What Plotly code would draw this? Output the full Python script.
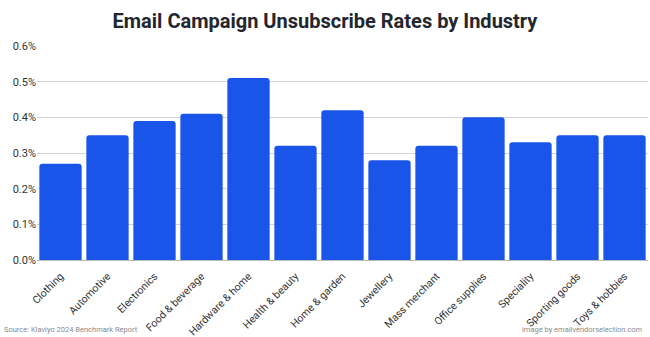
import plotly.graph_objects as go

categories = ["Clothing", "Automotive", "Electronics", "Food & beverage", "Hardware & home",
              "Health & beauty", "Home & garden", "Jewellery", "Mass merchant", "Office supplies",
              "Speciality", "Sporting goods", "Toys & hobbies"]
unsub_rates = [0.27, 0.35, 0.39, 0.41, 0.51, 0.32, 0.42, 0.28, 0.32, 0.40, 0.33, 0.35, 0.35]
y_ticks = [0.0, 0.1, 0.2, 0.3, 0.4, 0.5, 0.6]

fig = go.Figure(go.Bar(x=categories, y=unsub_rates, marker=dict(color="#1a55ea", line=dict(width=0))))

PLOT_L, PLOT_R, PLOT_T, PLOT_B = 37, 2, 46, 77
plot_w = 650 - PLOT_L - PLOT_R
plot_h = 337 - PLOT_T - PLOT_B

fig.update_layout(
    width=650, height=337,
    margin=dict(l=PLOT_L, r=PLOT_R, t=PLOT_T, b=PLOT_B, autoexpand=False),
    paper_bgcolor="white", plot_bgcolor="white",
    font=dict(family="Roboto", color="#333"),
    bargap=0.1, barcornerradius=3,
    showlegend=False,
    title=dict(text="<b>Email Campaign Unsubscribe Rates by Industry</b>",
               x=0.5, xanchor="center", y=1 - 21/337, yanchor="middle",
               font=dict(size=20, color="#23262d", family="Roboto")),
    xaxis=dict(tickangle=-45, tickfont=dict(size=10.5, color="#333"), showline=True,
               linecolor="#bbbbbb", linewidth=1, ticks="", showgrid=False,
               automargin=False, ticklabelstandoff=5),
    yaxis=dict(range=[0, 0.6], tickvals=y_ticks, ticktext=[f"{v:.1f}%" for v in y_ticks],
               tickfont=dict(size=11, color="#333"), gridcolor="#d4d4d4", gridwidth=1,
               zeroline=False, ticks="", ticklen=0, automargin=False),
    annotations=[
        dict(text="Source: Klaviyo 2024 Benchmark Report",
             x=(2 - PLOT_L) / plot_w, xref="paper", xanchor="left",
             y=-(329 - (337 - PLOT_B)) / plot_h, yref="paper", yanchor="middle", showarrow=False,
             font=dict(size=7.5, color="#8a8a8a")),
        dict(text="image by emailvendorselection.com",
             x=(645 - PLOT_L) / plot_w, xref="paper", xanchor="right",
             y=-(329 - (337 - PLOT_B)) / plot_h, yref="paper", yanchor="middle", showarrow=False,
             font=dict(size=7.5, color="#8a8a8a")),
    ],
)

fig.write_html("out.html")
